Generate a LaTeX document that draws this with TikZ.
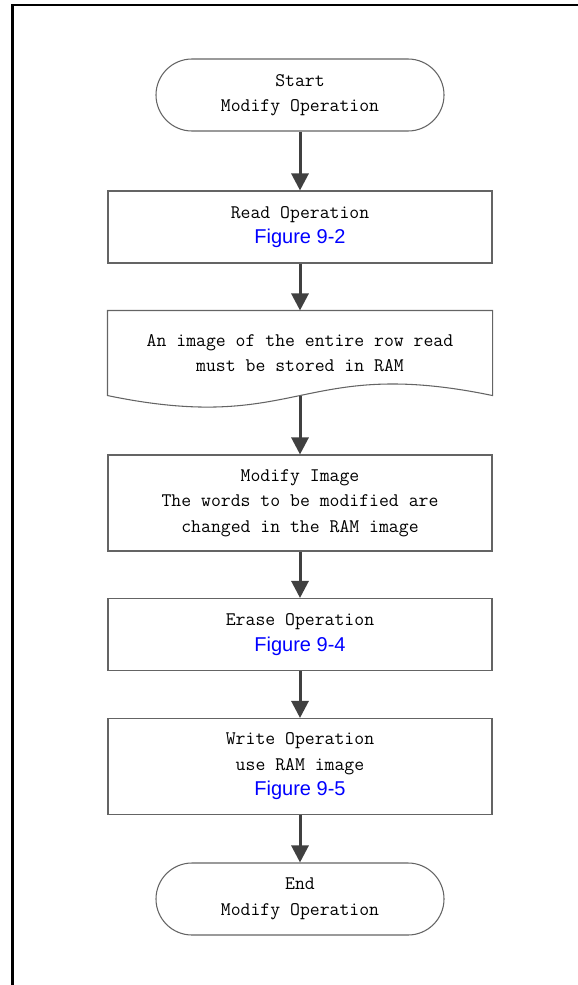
\documentclass[tikz,border=0pt]{standalone}
\usepackage{fontspec}
\usepackage{tikz}
\usetikzlibrary{arrows.meta}
\newfontfamily\figfont{Liberation Sans}
\definecolor{figblue}{RGB}{0,0,255}
\definecolor{linegray}{RGB}{100,100,100}
\definecolor{arrowgray}{RGB}{64,64,64}
\newcommand{\fignum}[1]{{\figfont\fontsize{15}{19.1}\selectfont\color{figblue}#1}}
\tikzstyle{box} = [draw=linegray, line width=0.8pt, rectangle, minimum width=288pt, align=center, font=\ttfamily\fontsize{14.4}{19.1}\selectfont]
\tikzstyle{terminal} = [box, rounded corners=27pt, minimum width=216pt, minimum height=54pt]
\tikzstyle{flow} = [draw=arrowgray, line width=2.25pt, -{Triangle[length=12.75pt,width=12.75pt]}]

\begin{document}
\begin{tikzpicture}[x=0.75pt,y=-0.75pt]
		\useasboundingbox (0,0) rectangle (578,985);
		\draw[line width=1.9pt, line join=miter] (12.5,985) -- (12.5,5) -- (578,5);
		\node[terminal](start) at (300,95) {Start\\Modify Operation};
		\node[box, minimum height=54pt](read) at (300,227) {Read Operation\\\fignum{Figure 9-2}};
		\node[box, draw=none, minimum height=63pt](doc) at (300,353) {An image of the entire row read\\must be stored in RAM};
		\draw[linegray, line width=0.8pt] (doc.south west) -- (doc.north west) -- (doc.north east) -- (doc.south east)
			.. controls ([yshift=30pt]doc.south) and ([yshift=-30pt]doc.south) .. (doc.south west) -- cycle;
		\node[box, minimum height=72pt](modify) at (300,503) {Modify Image\\The words to be modified are\\changed in the RAM image};
		\node[box, minimum height=54pt](erase) at (300,634.5) {Erase Operation\\\fignum{Figure 9-4}};
		\node[box, minimum height=72pt](write) at (300,766.5) {Write Operation\\use RAM image\\\fignum{Figure 9-5}};
		\node[terminal](end) at (300,899) {End\\Modify Operation};
		\draw[flow] (start) -- (read);
		\draw[flow] (read) -- (doc);
		\draw[flow] (doc) -- (modify);
		\draw[flow] (modify) -- (erase);
		\draw[flow] (erase) -- (write);
		\draw[flow] (write) -- (end);
	\end{tikzpicture}
\end{document}
